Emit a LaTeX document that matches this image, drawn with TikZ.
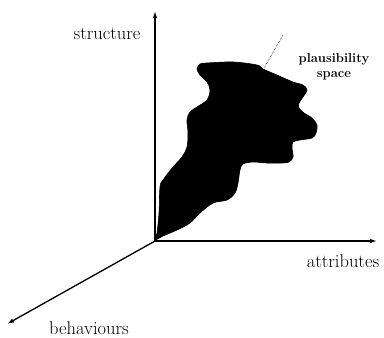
\documentclass[tikz,border=0pt]{standalone}
\usepackage{tikz}
\usetikzlibrary{arrows.meta}

\begin{document}
\begin{tikzpicture}[
  x=1pt, y=-1pt,
  axis/.style   = {-{Latex[length=7pt,width=4.5pt]}, line width=1.3pt},
  axlabel/.style= {font=\fontsize{18.5}{20}\selectfont, inner sep=0pt},
  small/.style  = {font=\fontsize{13}{15}\selectfont\bfseries, align=center, inner sep=0pt},
  blob/.style   = {fill=black, draw=black, line width=0.6pt},
  leader/.style = {densely dotted, line width=0.6pt}
]
  \useasboundingbox (0,0) rectangle (384,338);

  % Axis end points
  \coordinate (O)    at (155,241);
  \coordinate (ytip) at (155,11);
  \coordinate (xtip) at (377,241);
  \coordinate (ztip) at (7,324);

  % Plausibility space
  \fill[blob] plot[smooth cycle, tension=0.55] coordinates {
    (155,240) (157,233) (159,213) (160,187) (163,180) (173,167) (182,157)
    (187,147) (188,133) (187,120) (190,112) (197,107) (207,100) (210,90)
    (207,82) (200,75) (197,69) (200,64) (207,63) (233,62) (257,65)
    (263,69) (277,75) (293,82) (303,85) (307,90) (303,97) (299,103)
    (299,108) (304,113) (312,118) (317,125) (316,133) (312,138) (300,140)
    (293,142) (292,148) (293,157) (289,162) (282,163) (267,163) (253,162)
    (243,164) (240,170) (238,183) (235,193) (227,200) (213,203) (200,213)
    (190,223) (177,230) (163,236)
  };

  % Axes
  \draw[axis] (O) -- (ytip);
  \draw[axis] (O) -- (xtip);
  \draw[axis] (O) -- (ztip);

  % Axis labels
  \node[axlabel] (structure)  at (107,34)  {structure};
  \node[axlabel] (attributes) at (343,261) {attributes};
  \node[axlabel] (behaviours) at (89,328)  {behaviours};

  % Label and leader
  \node[small] (plaus) at (334,67) {plausibility\\space};
  \coordinate (edge) at (264,68);
  \coordinate (lend) at (283,35);
  \draw[leader] (edge) -- (lend);

\end{tikzpicture}
\end{document}
